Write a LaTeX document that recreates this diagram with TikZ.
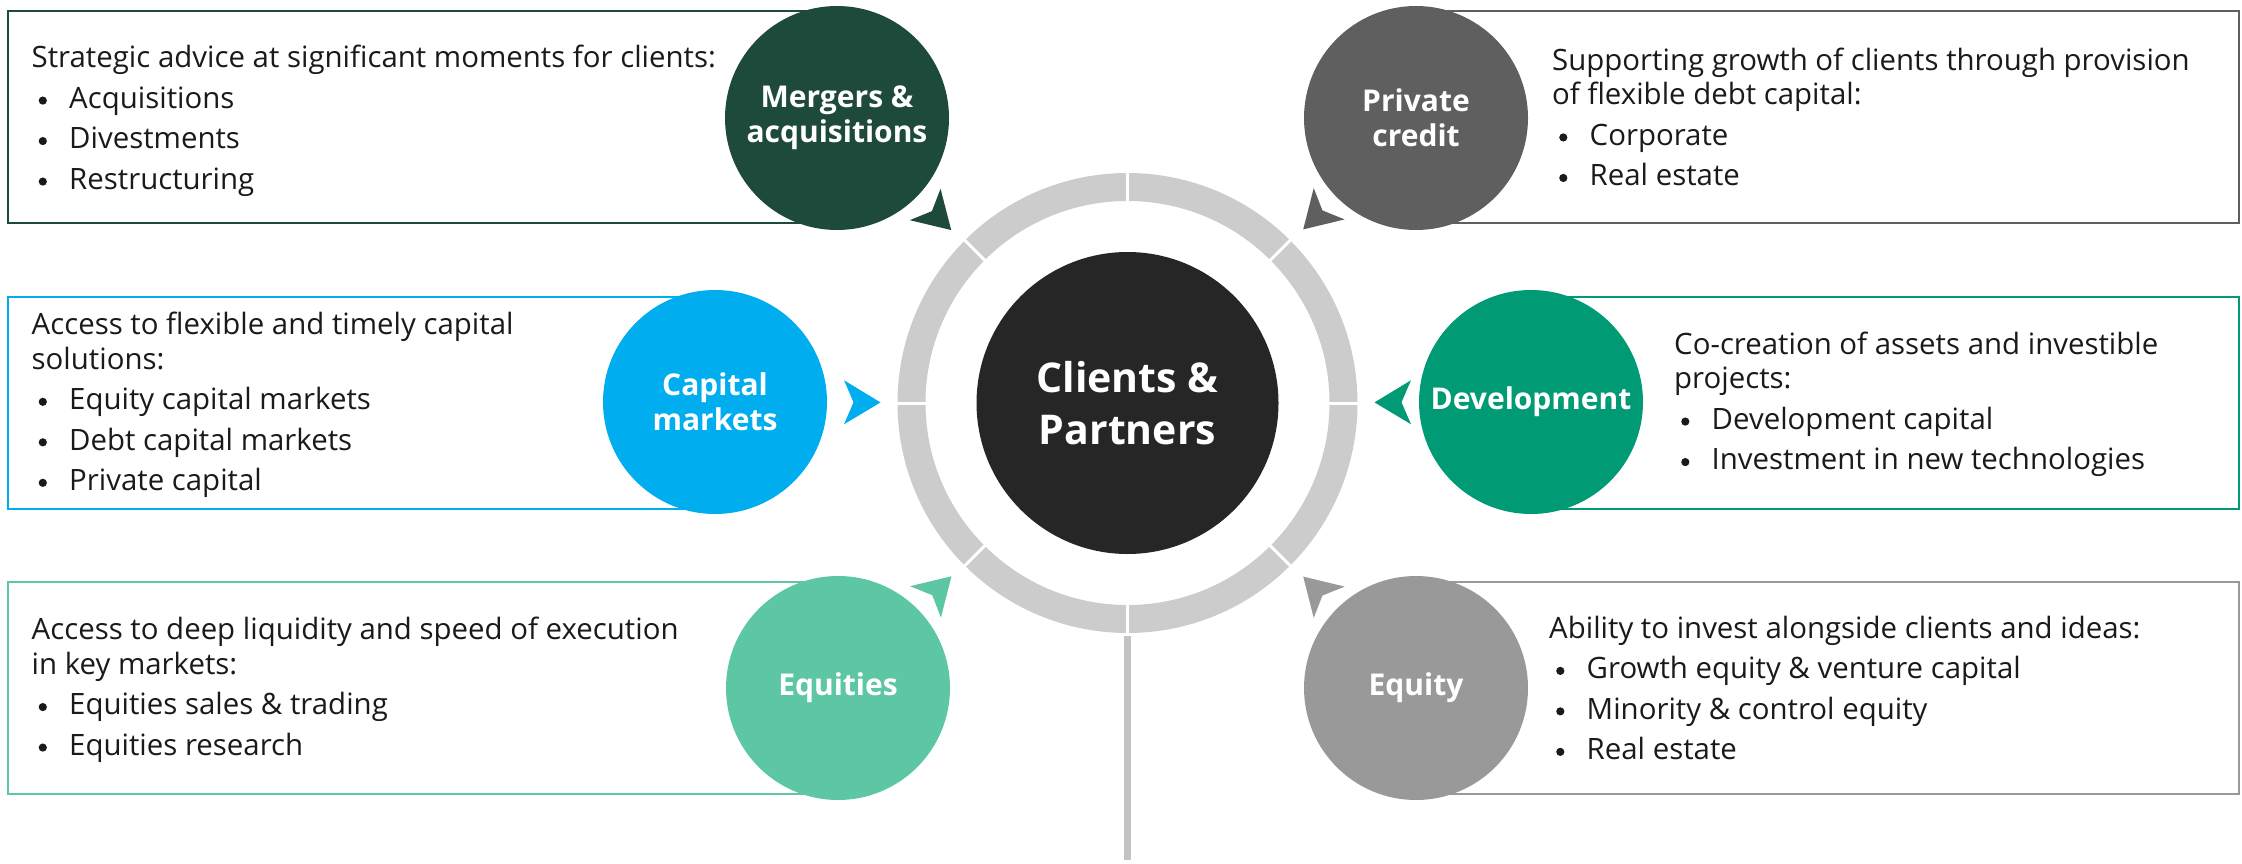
\documentclass[tikz,border=0pt]{standalone}
\usepackage{fontspec}
\setmainfont{Open Sans}
\newfontfamily\labfont{Open Sans}
\usetikzlibrary{calc}
\definecolor{cMA}{HTML}{1E4A3C}
\definecolor{cPC}{HTML}{5F5F5F}
\definecolor{cCM}{HTML}{00AEEF}
\definecolor{cDV}{HTML}{009B74}
\definecolor{cEQS}{HTML}{5DC7A5}
\definecolor{cEQY}{HTML}{999999}
\definecolor{cCenter}{HTML}{262626}
\definecolor{ringc}{HTML}{CCCCCC}
\definecolor{stemc}{HTML}{C3C3C3}
\definecolor{txt}{HTML}{1A1A1A}
\newcommand{\itm}[1]{\hspace*{7pt}\makebox[30.5pt][l]{\raisebox{3.8pt}{\tikz\fill[txt] (0,0) circle[radius=4.1pt];}}#1}
\begin{document}
\begin{tikzpicture}[x=1pt,y=-1pt,
  sat/.style={circle, minimum size=224pt, inner sep=0pt, fill=#1, text=white,
    font=\labfont\bfseries\fontsize{30}{35}\selectfont, align=center},
  infobox/.style={draw=#1, line width=1.8pt, rectangle, inner sep=0pt, minimum height=212pt},
  desc/.style={anchor=west, align=left, font=\fontsize{29.4}{34.5}\selectfont, text=txt, inner sep=0pt},
]
\useasboundingbox (0,0) rectangle (2242,864);

% info boxes
\node[infobox=cMA, minimum width=829pt] (bMA) at (422.5,117) {};
\node[infobox=cPC, minimum width=823pt] (bPC) at (1827.5,117) {};
\node[infobox=cCM, minimum width=707pt] (bCM) at (361.5,403) {};
\node[infobox=cDV, minimum width=708pt] (bDV) at (1885,403) {};
\node[infobox=cEQS, minimum width=830pt] (bEQS) at (423,688) {};
\node[infobox=cEQY, minimum width=823pt] (bEQY) at (1827.5,688) {};

% descriptions
\node[desc] (tMA) at (31.5,121) {Strategic advice at significant moments for clients:\\[6pt]
  \itm{Acquisitions}\\[6pt]\itm{Divestments}\\[6pt]\itm{Restructuring}};
\node[desc] (tPC) at (1552,117) {Supporting growth of clients through provision\\of flexible debt capital:\\[6pt]
  \itm{Corporate}\\[6pt]\itm{Real estate}};
\node[desc] (tCM) at (31.5,405) {Access to flexible and timely capital\\solutions:\\[6pt]
  \itm{Equity capital markets}\\[6pt]\itm{Debt capital markets}\\[6pt]\itm{Private capital}};
\node[desc] (tDV) at (1674,404.5) {Co-creation of assets and investible\\projects:\\[6pt]
  \itm{Development capital}\\[6pt]\itm{Investment in new technologies}};
\node[desc] (tEQS) at (31.5,690) {Access to deep liquidity and speed of execution\\in key markets:\\[6pt]
  \itm{Equities sales \& trading}\\[6pt]\itm{Equities research}};
\node[desc] (tEQY) at (1549,688) {Ability to invest alongside clients and ideas:\\[6pt]
  \itm{Growth equity \& venture capital}\\[6pt]\itm{Minority \& control equity}\\[6pt]\itm{Real estate}};

% satellite circles
\node[sat=cMA] (MA) at (837,118) {Mergers \&\\acquisitions};
\node[sat=cPC] (PC) at (1416,118) {Private\\credit};
\node[sat=cCM] (CM) at (715,402) {Capital\\markets};
\node[sat=cDV] (DV) at (1531,402) {Development};
\node[sat=cEQS] (EQS) at (838,688) {Equities};
\node[sat=cEQY] (EQY) at (1416,688) {Equity};

% centre
\node[circle, fill=cCenter, minimum size=302pt, inner sep=0pt, text=white,
  font=\labfont\bfseries\fontsize{41}{52}\selectfont, align=center] (C) at (1127.5,403) {Clients \&\\Partners};
\node[circle, minimum size=460pt, inner sep=0pt] (ring) at (C.center) {};
\draw[ringc, line width=28pt] (C.center) circle[radius=216pt];
\foreach \a in {0,45,...,315}
  \draw[white, line width=3pt] ($(C.center)+(\a:199pt)$) -- ($(C.center)+(\a:233pt)$);
\coordinate (stemEnd) at (1127.5,860);
\draw[stemc, line width=6.5pt, shorten <=3pt] (ring.south) -- (stemEnd);

% arrowheads
\foreach \s/\c in {MA/cMA, PC/cPC, CM/cCM, DV/cDV, EQS/cEQS, EQY/cEQY} {
  \coordinate (T\s) at ($(C.center)!247pt!(\s.center)$);
  \coordinate (B\s) at ($(T\s)!36.5pt!(\s.center)$);
  \fill[\c] (T\s) -- ($(B\s)!22pt!90:(T\s)$) -- ($(T\s)!27pt!(\s.center)$) -- ($(B\s)!22pt!-90:(T\s)$) -- cycle;
}
\end{tikzpicture}
\end{document}
